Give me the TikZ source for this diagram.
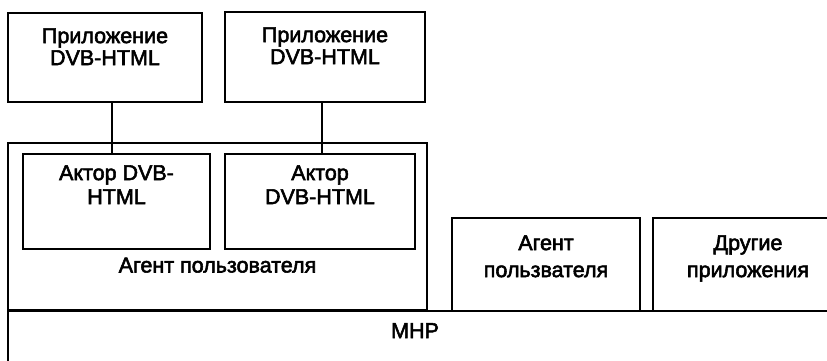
\documentclass[tikz,border=0pt]{standalone}
\usepackage{fontspec}
\setmainfont{Liberation Sans}[BoldFont=Liberation Sans, BoldFeatures={FakeBold=2.5}]
\usetikzlibrary{positioning}

\begin{document}
\begin{tikzpicture}[x=1pt, y=-1pt,
  box/.style={draw, line width=1.8pt, inner sep=0pt},
  link/.style={line width=1.8pt},
  lbl/.style={inner sep=0pt, align=center, font=\fontsize{21.5}{22}\selectfont\bfseries}]
\clip[use as bounding box] (0,0) rectangle (827,361);

% platform at the bottom, runs off the page
\node[box, minimum width=862, minimum height=89] (mhp) at (439,355.5) {};
\node[lbl, anchor=base] (mhpt) at (415,338) {MHP};

\node[box, minimum width=194, minimum height=89] (app1) at (105,57.5) {};
\node[box, minimum width=200, minimum height=90] (app2) at (325,57) {};
\node[lbl, below=16pt of app1.north] (app1t) {Приложение\\DVB-HTML};
\node[lbl, below=16pt of app2.north] (app2t) {Приложение\\DVB-HTML};

\node[box, minimum width=419, minimum height=167] (agent) at (217.5,226.5) {};
\node[box, minimum width=187, minimum height=95] (act1) at (116.5,201.5) {};
\node[box, minimum width=190, minimum height=95] (act2) at (320,201.5) {};
\node[lbl, font=\fontsize{21.5}{24}\selectfont\bfseries, below=12pt of act1.north] (act1t) {Актор DVB-\\HTML};
\node[lbl, font=\fontsize{21.5}{24}\selectfont\bfseries, below=12pt of act2.north] (act2t) {Актор\\DVB-HTML};
\node[lbl, above=38pt of agent.south] (agentt) {Агент пользователя};

\node[box, minimum width=188, minimum height=93] (agent2) at (546,264.5) {};
\node[box, minimum width=190, minimum height=93] (other) at (748,264.5) {};
\node[lbl, font=\fontsize{21.5}{27}\selectfont\bfseries, below=18pt of agent2.north] (agent2t) {Агент\\пользвателя};
\node[lbl, font=\fontsize{21.5}{27}\selectfont\bfseries, below=18pt of other.north] (othert) {Другие\\приложения};

\draw[link] ([xshift=7]app1.south) -- ([xshift=7]app1.south |- act1.north);
\draw[link] ([xshift=-3]app2.south) -- ([xshift=-3]app2.south |- act2.north);

\end{tikzpicture}
\end{document}
